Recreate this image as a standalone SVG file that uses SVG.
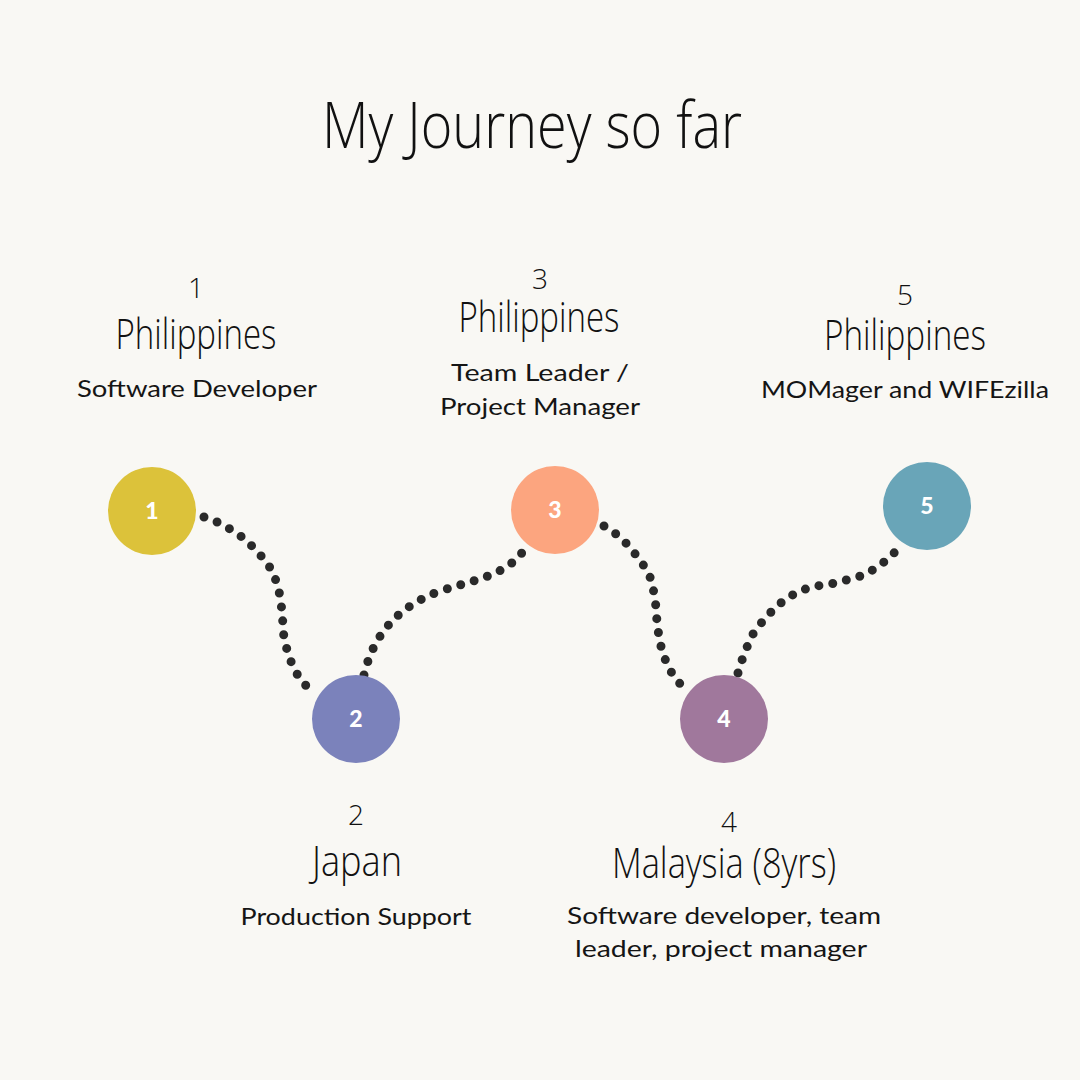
<svg xmlns="http://www.w3.org/2000/svg" width="1080" height="1080" viewBox="0 0 1080 1080">
<style>
.head{font-family:"Open Sans","Liberation Sans",sans-serif;font-weight:300;fill:#111;text-anchor:middle}
.num{font-family:"Open Sans","Liberation Sans",sans-serif;font-weight:300;fill:#111;text-anchor:middle;font-size:28px}
.body{font-family:"Lato","Liberation Sans",sans-serif;font-weight:400;fill:#151515;text-anchor:middle;font-size:24px}
.cnum{font-family:"Lato","Liberation Sans",sans-serif;font-weight:900;fill:#fff;text-anchor:middle;font-size:23px}
.dots{fill:none;stroke:#2a2a2a;stroke-width:9;stroke-linecap:round;stroke-linejoin:round;stroke-dasharray:0 14}
</style>
<rect width="1080" height="1080" fill="#F9F8F4"/>
<text class="head" x="532" y="148" font-size="64" textLength="420" lengthAdjust="spacingAndGlyphs">My Journey so far</text>
<g id="connectors">
<path class="dots" d="M204,517 L217,522 L230,529 L242,537 L253,547 L263,558 L271,569 L277,583 L280,596 L282,611 L283,625 L284,639 L288,653 L293,667 L300,679 L310,690"/>
<path class="dots" d="M364,675 C374,632 400,606 440,591 C482,578 507,574 524,550"/>
<path class="dots" d="M604,526 L616,534 L627,544 L636,555 L644,566 L651,579 L654,593 L656,607 L657,622 L659,637 L662,651 L667,664 L674,677 L683,687"/>
<path class="dots" d="M738,673 L742,660 L747,647 L753,634 L762,622 L772,611 L782,602 L794,594 L808,588 L822,585 L836,583 L850,579 L864,575 L876,568 L888,559 L898,549"/>
</g>
<g id="node1">
<circle cx="152" cy="511" r="44" fill="#DCC23A"/>
<text class="cnum" x="152" y="519">1</text>
<text class="num" x="196" y="298">1</text>
<text class="head" x="196" y="349" font-size="42" textLength="161" lengthAdjust="spacingAndGlyphs">Philippines</text>
<text class="body" x="197" y="397" textLength="240" lengthAdjust="spacingAndGlyphs">Software Developer</text>
</g>
<g id="node2">
<circle cx="356" cy="719" r="44" fill="#7B82BB"/>
<text class="cnum" x="356" y="727">2</text>
<text class="num" x="356" y="825">2</text>
<text class="head" x="357" y="876" font-size="42" textLength="90" lengthAdjust="spacingAndGlyphs">Japan</text>
<text class="body" x="356" y="925" textLength="231" lengthAdjust="spacingAndGlyphs">Production Support</text>
</g>
<g id="node3">
<circle cx="555" cy="510" r="44" fill="#FCA57F"/>
<text class="cnum" x="555" y="518">3</text>
<text class="num" x="540" y="289">3</text>
<text class="head" x="539" y="332" font-size="42" textLength="161" lengthAdjust="spacingAndGlyphs">Philippines</text>
<text class="body" x="540" y="381" textLength="178" lengthAdjust="spacingAndGlyphs">Team Leader /</text>
<text class="body" x="540" y="415" textLength="200" lengthAdjust="spacingAndGlyphs">Project Manager</text>
</g>
<g id="node4">
<circle cx="724" cy="719" r="44" fill="#A0789C"/>
<text class="cnum" x="724" y="727">4</text>
<text class="num" x="729" y="832">4</text>
<text class="head" x="724" y="878" font-size="42" textLength="224" lengthAdjust="spacingAndGlyphs">Malaysia (8yrs)</text>
<text class="body" x="724" y="924" textLength="314" lengthAdjust="spacingAndGlyphs">Software developer, team</text>
<text class="body" x="721" y="957" textLength="292" lengthAdjust="spacingAndGlyphs">leader, project manager</text>
</g>
<g id="node5">
<circle cx="927" cy="506" r="44" fill="#69A5B8"/>
<text class="cnum" x="927" y="514">5</text>
<text class="num" x="905" y="305">5</text>
<text class="head" x="905" y="350" font-size="42" textLength="162" lengthAdjust="spacingAndGlyphs">Philippines</text>
<text class="body" x="905" y="398" textLength="288" lengthAdjust="spacingAndGlyphs">MOMager and WIFEzilla</text>
</g>
</svg>
